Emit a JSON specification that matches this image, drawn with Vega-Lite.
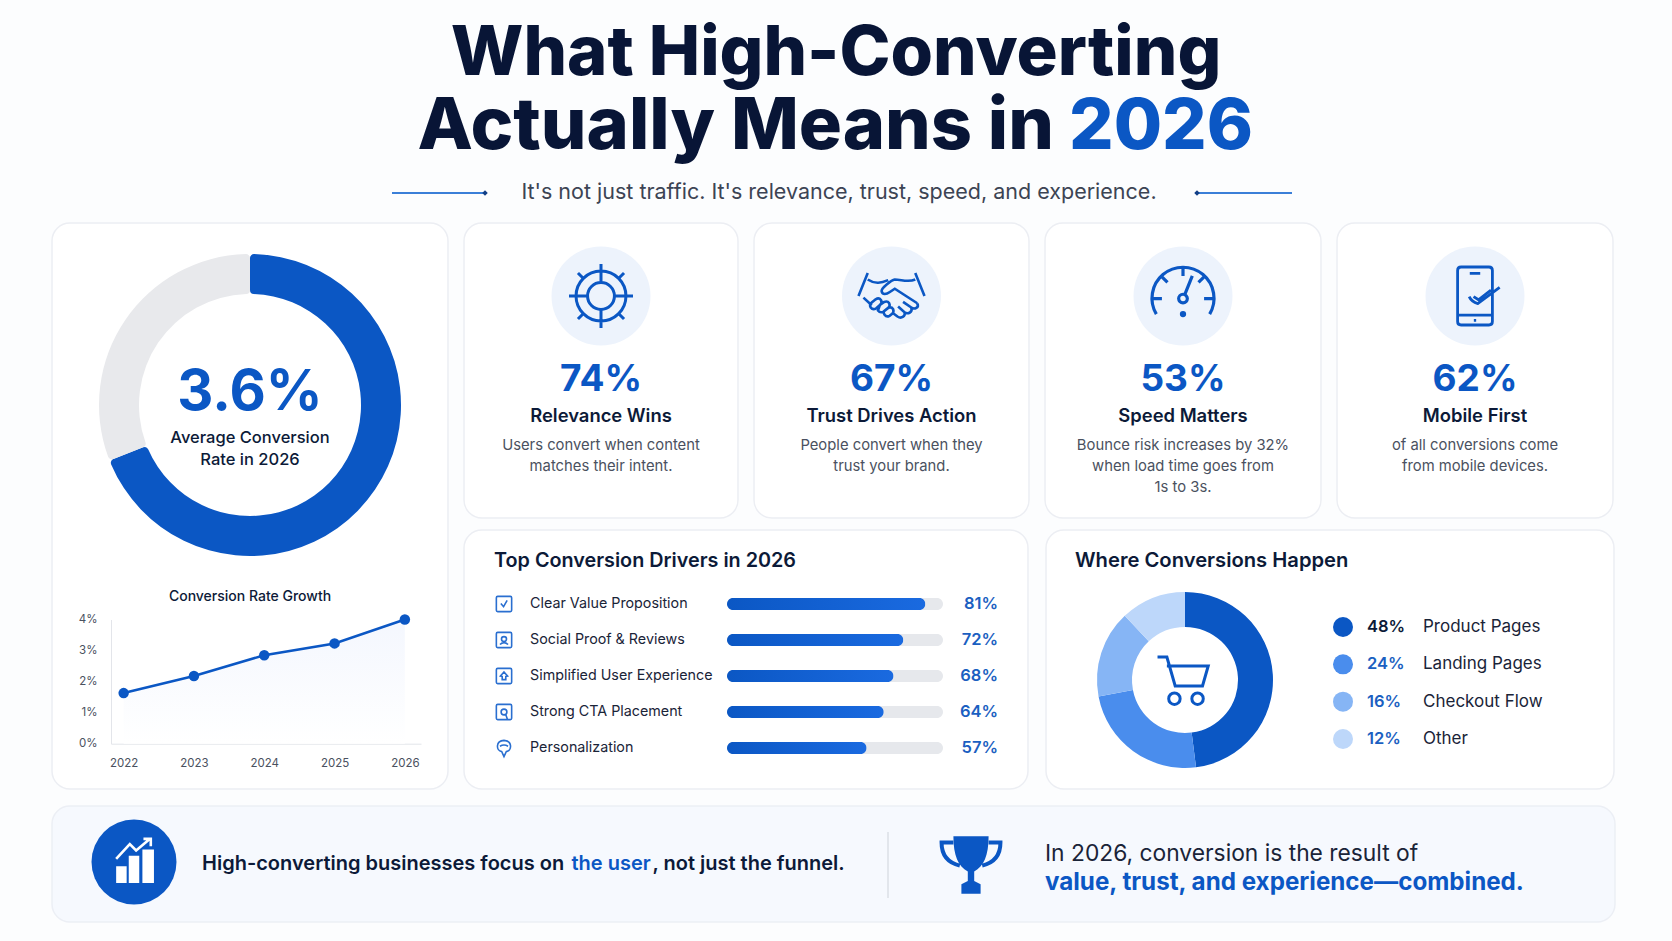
{"$schema":"https://vega.github.io/schema/vega-lite/v6.json","padding":{"left":51,"top":0,"right":58,"bottom":19},"background":"#fcfdfe","config":{"font":"Inter","view":{"stroke":null}},"spacing":15,"vconcat":[
{"width":1563,"height":207,"view":{"stroke":null},"resolve":{"scale":{"x":"independent","y":"independent"}},"layer":[
{"data":{"values":[{"t":"What High-Converting"}]},"mark":{"type":"text","fontSize":68.7,"fontWeight":800,"baseline":"alphabetic","align":"center","fill":"#081536"},"encoding":{"text":{"field":"t"},"x":{"field":"t","type":"nominal","axis":null,"scale":{"type":"point","range":[784,784]}},"y":{"field":"t","type":"nominal","axis":null,"scale":{"type":"point","range":[75,75]}}}},
{"data":{"values":[{"t":"Actually Means in"}]},"mark":{"type":"text","fontSize":72,"fontWeight":800,"baseline":"alphabetic","align":"right","fill":"#081536"},"encoding":{"text":{"field":"t"},"x":{"field":"t","type":"nominal","axis":null,"scale":{"type":"point","range":[1002,1002]}},"y":{"field":"t","type":"nominal","axis":null,"scale":{"type":"point","range":[149,149]}}}},
{"data":{"values":[{"t":"2026"}]},"mark":{"type":"text","fontSize":70,"fontWeight":800,"baseline":"alphabetic","align":"left","fill":"#0b57c4"},"encoding":{"text":{"field":"t"},"x":{"field":"t","type":"nominal","axis":null,"scale":{"type":"point","range":[1017,1017]}},"y":{"field":"t","type":"nominal","axis":null,"scale":{"type":"point","range":[149,149]}}}},
{"data":{"values":[{"t":"It's not just traffic. It's relevance, trust, speed, and experience."}]},"mark":{"type":"text","fontSize":21.5,"fontWeight":400,"fill":"#3c4454"},"encoding":{"text":{"field":"t"},"x":{"field":"t","type":"nominal","axis":null,"scale":{"type":"point","range":[787,787]}},"y":{"field":"t","type":"nominal","axis":null,"scale":{"type":"point","range":[193,193]}}}},
{"data":{"values":[{"side":"left","from":0,"to":1}]},"mark":{"type":"rule","stroke":"#3b7fd8","strokeWidth":2},"encoding":{"x":{"field":"from","type":"quantitative","axis":null,"scale":{"domain":[0,1],"range":[340,435]}},"x2":{"field":"to"},"y":{"field":"side","type":"nominal","axis":null,"scale":{"type":"point","range":[193,193]}}}},
{"data":{"values":[{"side":"right","from":0,"to":1}]},"mark":{"type":"rule","stroke":"#3b7fd8","strokeWidth":2},"encoding":{"x":{"field":"from","type":"quantitative","axis":null,"scale":{"domain":[0,1],"range":[1143,1240]}},"x2":{"field":"to"},"y":{"field":"side","type":"nominal","axis":null,"scale":{"type":"point","range":[193,193]}}}},
{"data":{"values":[{"side":"left"},{"side":"right"}]},"mark":{"type":"point","shape":"diamond","filled":true,"size":30,"color":"#123f86","opacity":1},"encoding":{"x":{"field":"side","type":"nominal","axis":null,"scale":{"type":"point","padding":0,"domain":["left","right"],"range":[433,1145]}},"y":{"field":"side","type":"nominal","axis":null,"scale":{"type":"point","range":[193,193]}}}}
]},
{"spacing":14,"hconcat":[
{"width":396,"height":566,"view":{"fill":"#ffffff","stroke":"#eceef3","strokeWidth":1.5,"cornerRadius":18},"resolve":{"scale":{"x":"independent","y":"independent"}},"layer":[
{"data":{"values":[{"part":"Reached","share":69},{"part":"Remaining","share":31}]},"mark":{"type":"arc","innerRadius":111,"outerRadius":151,"cornerRadius":4},"encoding":{"theta":{"field":"share","type":"quantitative"},"order":{"field":"share","sort":"descending"},"color":{"field":"part","type":"nominal","legend":null,"scale":{"domain":["Reached","Remaining"],"range":["#0b57c4","#e8e9ec"]}},"y":{"field":"part","type":"nominal","axis":null,"scale":{"type":"point","range":[182,182]}}}},
{"data":{"values":[{"rate":0.036}]},"mark":{"type":"text","fontSize":56,"fontWeight":700,"fill":"#0b57c4"},"encoding":{"text":{"field":"rate","type":"quantitative","format":".1%"},"y":{"field":"rate","type":"nominal","axis":null,"scale":{"type":"point","range":[170,170]}}}},
{"data":{"values":[{"line":1,"t":"Average Conversion"},{"line":2,"t":"Rate in 2026"}]},"mark":{"type":"text","fontSize":16.5,"fontWeight":500,"fill":"#0c1a38"},"encoding":{"text":{"field":"t"},"y":{"field":"line","type":"ordinal","axis":null,"scale":{"type":"point","padding":0,"range":[215,237]}}}},
{"data":{"values":[{"t":"Conversion Rate Growth"}]},"mark":{"type":"text","fontSize":14,"fontWeight":500,"fill":"#0c1a38"},"encoding":{"text":{"field":"t"},"y":{"field":"t","type":"nominal","axis":null,"scale":{"type":"point","range":[374,374]}}}},
{"data":{"values":[{"year":2022,"rate":0.0163},{"year":2023,"rate":0.0218},{"year":2024,"rate":0.0285},{"year":2025,"rate":0.0323},{"year":2026,"rate":0.04}]},"encoding":{"x":{"field":"year","type":"quantitative","scale":{"domain":[2021.82,2026.23],"range":[59,369],"nice":false,"zero":false},"axis":{"values":[2022,2023,2024,2025,2026],"format":"d","title":null,"offset":-45.3,"ticks":false,"grid":false,"domainColor":"#e3e5ea","labelColor":"#4a5160","labelFontSize":11.5,"labelPadding":14}},"y":{"field":"rate","type":"quantitative","scale":{"domain":[0,0.04],"range":[520.7,396.5],"nice":false},"axis":{"values":[0,0.01,0.02,0.03,0.04],"format":".0%","title":null,"offset":-59,"ticks":false,"grid":false,"domainColor":"#e3e5ea","labelColor":"#4a5160","labelFontSize":11.5,"labelPadding":14}}},"layer":[
{"mark":{"type":"area","color":{"gradient":"linear","x1":0,"y1":0,"x2":0,"y2":1,"stops":[{"offset":0,"color":"#f4f7fe"},{"offset":1,"color":"#ffffff"}]}}},
{"data":{"values":[{"rate":0.01},{"rate":0.02},{"rate":0.03},{"rate":0.04}]},"mark":{"type":"rule","stroke":"#e9ebf0","strokeWidth":1},"encoding":{"x":{"datum":2021.82},"x2":{"datum":2026.23}}},
{"mark":{"type":"line","color":"#0b57c4","strokeWidth":2.5}},
{"mark":{"type":"circle","color":"#0b57c4","size":110,"opacity":1}}
]}
]},
{"spacing":10,"vconcat":[
{"spacing":14,"hconcat":[
{"width":274,"height":295,"view":{"fill":"#ffffff","stroke":"#eceef3","strokeWidth":1.5,"cornerRadius":18},"resolve":{"scale":{"y":"independent"}},"layer":[
{"data":{"values":[{"card":"Relevance Wins"}]},"mark":{"type":"circle","size":9801,"color":"#edf3fc","opacity":1},"encoding":{"y":{"field":"card","type":"nominal","axis":null,"scale":{"type":"point","range":[73,73]}}}},
{"data":{"values":[{"card":"Relevance Wins"}]},"mark":{"type":"point","shape":"M-.78 0A.78 .78 0 1 1 .78 0A.78 .78 0 1 1 -.78 0ZM-.42 0A.42 .42 0 1 1 .42 0A.42 .42 0 1 1 -.42 0ZM-1 0L-.42 0M.42 0L1 0M0 -1L0 -.42M0 .42L0 1M-.72 -.72L-.54 -.54M.72 -.72L.54 -.54M-.72 .72L-.54 .54M.72 .72L.54 .54","size":4096,"filled":false,"stroke":"#0b57c4","strokeWidth":3,"opacity":1},"encoding":{"y":{"field":"card","type":"nominal","axis":null,"scale":{"type":"point","range":[73,73]}}}},
{"data":{"values":[{"card":"Relevance Wins","pct":0.74}]},"mark":{"type":"text","fontSize":37,"fontWeight":700,"fill":"#0b57c4"},"encoding":{"text":{"field":"pct","type":"quantitative","format":".0%"},"y":{"field":"card","type":"nominal","axis":null,"scale":{"type":"point","range":[157,157]}}}},
{"data":{"values":[{"card":"Relevance Wins"}]},"mark":{"type":"text","fontSize":18.4,"fontWeight":600,"fill":"#0c1a38"},"encoding":{"text":{"field":"card"},"y":{"field":"card","type":"nominal","axis":null,"scale":{"type":"point","range":[193,193]}}}},
{"data":{"values":[{"line":1,"t":"Users convert when content"},{"line":2,"t":"matches their intent."}]},"mark":{"type":"text","fontSize":14.8,"fontWeight":400,"fill":"#4a5160"},"encoding":{"text":{"field":"t"},"y":{"field":"line","type":"ordinal","axis":null,"scale":{"type":"point","padding":0,"domain":[1,2,3],"range":[223,265]}}}}
]},
{"width":275,"height":295,"view":{"fill":"#ffffff","stroke":"#eceef3","strokeWidth":1.5,"cornerRadius":18},"resolve":{"scale":{"y":"independent"}},"layer":[
{"data":{"values":[{"card":"Trust Drives Action"}]},"mark":{"type":"circle","size":9801,"color":"#edf3fc","opacity":1},"encoding":{"y":{"field":"card","type":"nominal","axis":null,"scale":{"type":"point","range":[73,73]}}}},
{"data":{"values":[{"card":"Trust Drives Action"}]},"mark":{"type":"point","shape":"M-1 0L-.72 -.7M1 0L.72 -.7M-.72 -.5C-.5 -.35 -.3 -.4 -.1 -.48M.72 -.5C.5 -.4 .3 -.5 .1 -.5C0 -.48 -.3 -.25 -.3 -.15C-.28 -.02 -.15 -.05 -.05 -.12L.1 -.22L.78 .22M-.85 .05L-.6 .28M.78 .22C.85 .35 .7 .42 .6 .35L.35 .18M.6 .35C.65 .5 .5 .55 .4 .5L.2 .32M.4 .5C.42 .62 .3 .7 .18 .62L.05 .52M-.6 .2L-.48 .1Q-.38 .04 -.32 .12Q-.27 .2 -.35 .27L-.47 .38Q-.57 .43 -.63 .35Q-.68 .27 -.6 .2ZM-.35 .27L-.22 .18Q-.12 .14 -.07 .22Q-.03 .3 -.1 .36L-.25 .48Q-.35 .52 -.41 .44ZM-.1 .36Q0 .32 .05 .4Q.08 .48 .02 .54L-.06 .6Q-.15 .65 -.21 .57L-.25 .48","size":4356,"filled":false,"stroke":"#0b57c4","strokeWidth":2.6,"opacity":1},"encoding":{"y":{"field":"card","type":"nominal","axis":null,"scale":{"type":"point","range":[73,73]}}}},
{"data":{"values":[{"card":"Trust Drives Action","pct":0.67}]},"mark":{"type":"text","fontSize":37,"fontWeight":700,"fill":"#0b57c4"},"encoding":{"text":{"field":"pct","type":"quantitative","format":".0%"},"y":{"field":"card","type":"nominal","axis":null,"scale":{"type":"point","range":[157,157]}}}},
{"data":{"values":[{"card":"Trust Drives Action"}]},"mark":{"type":"text","fontSize":18.4,"fontWeight":600,"fill":"#0c1a38"},"encoding":{"text":{"field":"card"},"y":{"field":"card","type":"nominal","axis":null,"scale":{"type":"point","range":[193,193]}}}},
{"data":{"values":[{"line":1,"t":"People convert when they"},{"line":2,"t":"trust your brand."}]},"mark":{"type":"text","fontSize":14.8,"fontWeight":400,"fill":"#4a5160"},"encoding":{"text":{"field":"t"},"y":{"field":"line","type":"ordinal","axis":null,"scale":{"type":"point","padding":0,"domain":[1,2,3],"range":[223,265]}}}}
]},
{"width":276,"height":295,"view":{"fill":"#ffffff","stroke":"#eceef3","strokeWidth":1.5,"cornerRadius":18},"resolve":{"scale":{"y":"independent"}},"layer":[
{"data":{"values":[{"card":"Speed Matters"}]},"mark":{"type":"circle","size":9801,"color":"#edf3fc","opacity":1},"encoding":{"y":{"field":"card","type":"nominal","axis":null,"scale":{"type":"point","range":[73,73]}}}},
{"data":{"values":[{"card":"Speed Matters"}]},"mark":{"type":"point","shape":"M-.86 .68A1 1 0 1 1 .86 .68M0 -.8L0 -.55M-.98 .18L-.68 .18M.98 .18L.68 .18M-.68 -.52L-.5 -.34M.68 -.52L.5 -.34M.3 -.55L.07 .02M-.14 .18A.14 .14 0 1 1 .14 .18A.14 .14 0 1 1 -.14 .18ZM-.05 .68A.05 .05 0 1 1 .05 .68A.05 .05 0 1 1 -.05 .68Z","size":3844,"filled":false,"stroke":"#0b57c4","strokeWidth":3.2,"opacity":1},"encoding":{"y":{"field":"card","type":"nominal","axis":null,"scale":{"type":"point","range":[70,70]}}}},
{"data":{"values":[{"card":"Speed Matters","pct":0.53}]},"mark":{"type":"text","fontSize":37,"fontWeight":700,"fill":"#0b57c4"},"encoding":{"text":{"field":"pct","type":"quantitative","format":".0%"},"y":{"field":"card","type":"nominal","axis":null,"scale":{"type":"point","range":[157,157]}}}},
{"data":{"values":[{"card":"Speed Matters"}]},"mark":{"type":"text","fontSize":18.4,"fontWeight":600,"fill":"#0c1a38"},"encoding":{"text":{"field":"card"},"y":{"field":"card","type":"nominal","axis":null,"scale":{"type":"point","range":[193,193]}}}},
{"data":{"values":[{"line":1,"t":"Bounce risk increases by 32%"},{"line":2,"t":"when load time goes from"},{"line":3,"t":"1s to 3s."}]},"mark":{"type":"text","fontSize":14.8,"fontWeight":400,"fill":"#4a5160"},"encoding":{"text":{"field":"t"},"y":{"field":"line","type":"ordinal","axis":null,"scale":{"type":"point","padding":0,"domain":[1,2,3],"range":[223,265]}}}}
]},
{"width":276,"height":295,"view":{"fill":"#ffffff","stroke":"#eceef3","strokeWidth":1.5,"cornerRadius":18},"resolve":{"scale":{"y":"independent"}},"layer":[
{"data":{"values":[{"card":"Mobile First"}]},"mark":{"type":"circle","size":9801,"color":"#edf3fc","opacity":1},"encoding":{"y":{"field":"card","type":"nominal","axis":null,"scale":{"type":"point","range":[73,73]}}}},
{"data":{"values":[{"card":"Mobile First"}]},"mark":{"type":"point","shape":"M-.48 -1H.48Q.6 -1 .6 -.88V.88Q.6 1 .48 1H-.48Q-.6 1 -.6 .88V-.88Q-.6 -1 -.48 -1ZM-.18 -.78H.18M-.6 .66H.6M-.04 .84H.04M-.2 .02Q-.12 .2 .1 .26L.85 -.3M-.05 .02L.12 .13L.55 -.2","size":3364,"filled":false,"stroke":"#0b57c4","strokeWidth":2.8,"opacity":1},"encoding":{"y":{"field":"card","type":"nominal","axis":null,"scale":{"type":"point","range":[73,73]}}}},
{"data":{"values":[{"card":"Mobile First","pct":0.62}]},"mark":{"type":"text","fontSize":37,"fontWeight":700,"fill":"#0b57c4"},"encoding":{"text":{"field":"pct","type":"quantitative","format":".0%"},"y":{"field":"card","type":"nominal","axis":null,"scale":{"type":"point","range":[157,157]}}}},
{"data":{"values":[{"card":"Mobile First"}]},"mark":{"type":"text","fontSize":18.4,"fontWeight":600,"fill":"#0c1a38"},"encoding":{"text":{"field":"card"},"y":{"field":"card","type":"nominal","axis":null,"scale":{"type":"point","range":[193,193]}}}},
{"data":{"values":[{"line":1,"t":"of all conversions come"},{"line":2,"t":"from mobile devices."}]},"mark":{"type":"text","fontSize":14.8,"fontWeight":400,"fill":"#4a5160"},"encoding":{"text":{"field":"t"},"y":{"field":"line","type":"ordinal","axis":null,"scale":{"type":"point","padding":0,"domain":[1,2,3],"range":[223,265]}}}}
]}
]},
{"spacing":16,"hconcat":[
{"width":564,"height":259,"view":{"fill":"#ffffff","stroke":"#eceef3","strokeWidth":1.5,"cornerRadius":18},"resolve":{"scale":{"x":"independent","y":"independent"}},"layer":[
{"data":{"values":[{"t":"Top Conversion Drivers in 2026"}]},"mark":{"type":"text","fontSize":19.8,"fontWeight":600,"align":"left","fill":"#0c1a38"},"encoding":{"text":{"field":"t"},"x":{"field":"t","type":"nominal","axis":null,"scale":{"type":"point","range":[30,30]}},"y":{"field":"t","type":"nominal","axis":null,"scale":{"type":"point","range":[31,31]}}}},
{"data":{"values":[{"driver":"Clear Value Proposition","share":0.81},{"driver":"Social Proof & Reviews","share":0.72},{"driver":"Simplified User Experience","share":0.68},{"driver":"Strong CTA Placement","share":0.64},{"driver":"Personalization","share":0.57}]},"encoding":{"y":{"field":"driver","type":"nominal","axis":null,"sort":null,"scale":{"type":"point","padding":0,"range":[74,218]}}},"resolve":{"scale":{"x":"independent"}},"layer":[
{"mark":{"type":"point","filled":false,"size":324,"stroke":"#2a6fd0","strokeWidth":1.6,"opacity":1},"encoding":{"x":{"field":"driver","type":"nominal","axis":null,"scale":{"type":"point","range":[40,40]}},"shape":{"field":"driver","type":"nominal","legend":null,"sort":null,"scale":{"range":["M-.7 -.85H.7Q.85 -.85 .85 -.7V.7Q.85 .85 .7 .85H-.7Q-.85 .85 -.85 .7V-.7Q-.85 -.85 -.7 -.85ZM-.35 -.05L-.05 .3L.35 -.4","M-.7 -.85H.7Q.85 -.85 .85 -.7V.7Q.85 .85 .7 .85H-.7Q-.85 .85 -.85 .7V-.7Q-.85 -.85 -.7 -.85ZM-.28 -.1A.28 .28 0 1 1 .28 -.1A.28 .28 0 1 1 -.28 -.1ZM-.45 .5Q0 .1 .45 .5","M-.7 -.85H.7Q.85 -.85 .85 -.7V.7Q.85 .85 .7 .85H-.7Q-.85 .85 -.85 .7V-.7Q-.85 -.85 -.7 -.85ZM0 -.45L.4 0L.2 .05V.4H-.2V.05L-.4 0Z","M-.7 -.85H.7Q.85 -.85 .85 -.7V.7Q.85 .85 .7 .85H-.7Q-.85 .85 -.85 .7V-.7Q-.85 -.85 -.7 -.85ZM-.32 0A.32 .32 0 1 1 .32 0A.32 .32 0 1 1 -.32 0ZM.2 .3L.4 .85","M0 .95L-.25 .4C-.9 .3 -.95 -.8 0 -.85C.95 -.8 .9 .3 .25 .4ZM-.45 -.2C-.1 -.4 .1 -.4 .45 -.2"]}}}},
{"mark":{"type":"text","fontSize":14.3,"fontWeight":400,"align":"left","fill":"#1a2438"},"encoding":{"text":{"field":"driver"},"x":{"field":"driver","type":"nominal","axis":null,"scale":{"type":"point","range":[66,66]}}}},
{"mark":{"type":"bar","size":12,"cornerRadius":6,"fill":"#e6e8ec"},"encoding":{"x":{"datum":0.882,"type":"quantitative","axis":null,"scale":{"domain":[0,0.882],"range":[263,479],"nice":false}}}},
{"mark":{"type":"bar","size":12,"cornerRadius":6,"fill":{"gradient":"linear","x1":0,"y1":0,"x2":1,"y2":0,"stops":[{"offset":0,"color":"#0b57c4"},{"offset":1,"color":"#1a6ae0"}]}},"encoding":{"x":{"field":"share","type":"quantitative","axis":null,"scale":{"domain":[0,0.882],"range":[263,479],"nice":false}}}},
{"mark":{"type":"text","fontSize":16.5,"fontWeight":600,"align":"right","fill":"#1b5fc1"},"encoding":{"text":{"field":"share","type":"quantitative","format":".0%"},"x":{"field":"driver","type":"nominal","axis":null,"scale":{"type":"point","range":[534,534]}}}}
]}
]},
{"width":568,"height":259,"view":{"fill":"#ffffff","stroke":"#eceef3","strokeWidth":1.5,"cornerRadius":18},"resolve":{"scale":{"x":"independent","y":"independent","color":"independent"}},"layer":[
{"data":{"values":[{"t":"Where Conversions Happen"}]},"mark":{"type":"text","fontSize":20.2,"fontWeight":600,"align":"left","fill":"#0c1a38"},"encoding":{"text":{"field":"t"},"x":{"field":"t","type":"nominal","axis":null,"scale":{"type":"point","range":[29,29]}},"y":{"field":"t","type":"nominal","axis":null,"scale":{"type":"point","range":[31,31]}}}},
{"data":{"values":[{"place":"Product Pages","share":0.48},{"place":"Landing Pages","share":0.24},{"place":"Checkout Flow","share":0.16},{"place":"Other","share":0.12}]},"encoding":{"y":{"field":"place","type":"nominal","axis":null,"sort":null,"scale":{"type":"point","padding":0,"range":[97,209]}}},"resolve":{"scale":{"x":"independent","y":"independent","color":"independent"}},"layer":[
{"mark":{"type":"arc","innerRadius":53,"outerRadius":88},"encoding":{"theta":{"field":"share","type":"quantitative"},"order":{"field":"share","sort":"descending"},"color":{"field":"place","type":"nominal","legend":null,"scale":{"domain":["Product Pages","Landing Pages","Checkout Flow","Other"],"range":["#0b57c4","#4a8ded","#86b5f5","#bdd7fa"]}},"x":{"field":"place","type":"nominal","axis":null,"scale":{"type":"point","range":[139,139]}},"y":{"field":"place","type":"nominal","axis":null,"scale":{"type":"point","range":[150,150]}}}},
{"mark":{"type":"circle","size":400,"opacity":1},"encoding":{"color":{"field":"place","type":"nominal","legend":null,"scale":{"domain":["Product Pages","Landing Pages","Checkout Flow","Other"],"range":["#0b57c4","#4a8ded","#86b5f5","#bdd7fa"]}},"x":{"field":"place","type":"nominal","axis":null,"scale":{"type":"point","range":[297,297]}}}},
{"mark":{"type":"text","fontSize":16.5,"fontWeight":600,"align":"left"},"encoding":{"text":{"field":"share","type":"quantitative","format":".0%"},"color":{"field":"place","type":"nominal","legend":null,"scale":{"domain":["Product Pages","Landing Pages","Checkout Flow","Other"],"range":["#0c1a38","#1b5fc1","#1b5fc1","#1b5fc1"]}},"x":{"field":"place","type":"nominal","axis":null,"scale":{"type":"point","range":[321,321]}}}},
{"mark":{"type":"text","fontSize":17,"fontWeight":400,"align":"left","fill":"#1a2438"},"encoding":{"text":{"field":"place"},"x":{"field":"place","type":"nominal","axis":null,"scale":{"type":"point","range":[377,377]}}}}
]},
{"data":{"values":[{"icon":"cart"}]},"mark":{"type":"point","shape":"M-.98 -.88L-.62 -.88L-.3 .23L.75 .23L.97 -.54L-.62 -.54M-.55 .72A.22 .22 0 1 1 -.11 .72A.22 .22 0 1 1 -.55 .72ZM.34 .72A.22 .22 0 1 1 .78 .72A.22 .22 0 1 1 .34 .72Z","size":2704,"filled":false,"stroke":"#0b57c4","strokeWidth":3,"opacity":1},"encoding":{"x":{"field":"icon","type":"nominal","axis":null,"scale":{"type":"point","range":[137,137]}},"y":{"field":"icon","type":"nominal","axis":null,"scale":{"type":"point","range":[150,150]}}}}
]}
]}
]}
]},
{"width":1563,"height":116,"view":{"fill":"#f6f9fe","stroke":"#eceff5","strokeWidth":1.5,"cornerRadius":18},"resolve":{"scale":{"x":"independent","y":"independent"}},"layer":[
{"data":{"values":[{"k":"badge"}]},"mark":{"type":"circle","size":7225,"color":"#0b57c4","opacity":1},"encoding":{"x":{"field":"k","type":"nominal","axis":null,"scale":{"type":"point","range":[82,82]}},"y":{"field":"k","type":"nominal","axis":null,"scale":{"type":"point","range":[56,56]}}}},
{"data":{"values":[{"k":"bars"}]},"mark":{"type":"point","shape":"M-.85 .2H-.35V1H-.85ZM-.25 -.3H.25V1H-.25ZM.4 -.6H.95V1H.4Z","size":1764,"filled":true,"fill":"#ffffff","opacity":1},"encoding":{"x":{"field":"k","type":"nominal","axis":null,"scale":{"type":"point","range":[82,82]}},"y":{"field":"k","type":"nominal","axis":null,"scale":{"type":"point","range":[56,56]}}}},
{"data":{"values":[{"k":"arrow"}]},"mark":{"type":"point","shape":"M-.85 -.15L-.2 -.85L.1 -.55L.75 -1.1M.45 -1.1H.8V-.75","size":1764,"filled":false,"stroke":"#ffffff","strokeWidth":2.6,"opacity":1},"encoding":{"x":{"field":"k","type":"nominal","axis":null,"scale":{"type":"point","range":[82,82]}},"y":{"field":"k","type":"nominal","axis":null,"scale":{"type":"point","range":[56,56]}}}},
{"data":{"values":[{"t":"High-converting businesses focus on"}]},"mark":{"type":"text","fontSize":20,"fontWeight":600,"align":"left","fill":"#0c1a38"},"encoding":{"text":{"field":"t"},"x":{"field":"t","type":"nominal","axis":null,"scale":{"type":"point","range":[150,150]}},"y":{"field":"t","type":"nominal","axis":null,"scale":{"type":"point","range":[58,58]}}}},
{"data":{"values":[{"t":"the user"}]},"mark":{"type":"text","fontSize":20,"fontWeight":600,"align":"left","fill":"#0b57c4"},"encoding":{"text":{"field":"t"},"x":{"field":"t","type":"nominal","axis":null,"scale":{"type":"point","range":[519.5,519.5]}},"y":{"field":"t","type":"nominal","axis":null,"scale":{"type":"point","range":[58,58]}}}},
{"data":{"values":[{"t":", not just the funnel."}]},"mark":{"type":"text","fontSize":20,"fontWeight":600,"align":"left","fill":"#0c1a38"},"encoding":{"text":{"field":"t"},"x":{"field":"t","type":"nominal","axis":null,"scale":{"type":"point","range":[600.5,600.5]}},"y":{"field":"t","type":"nominal","axis":null,"scale":{"type":"point","range":[58,58]}}}},
{"data":{"values":[{"k":"divider","from":0,"to":1}]},"mark":{"type":"rule","stroke":"#d5d9e0","strokeWidth":1.2},"encoding":{"x":{"field":"k","type":"nominal","axis":null,"scale":{"type":"point","range":[836,836]}},"y":{"field":"from","type":"quantitative","axis":null,"scale":{"domain":[0,1],"range":[26,92]}},"y2":{"field":"to"}}},
{"data":{"values":[{"k":"cup"}]},"mark":{"type":"point","shape":"M-.55 -.9L.55 -.9C.55 -.3 .4 .05 .1 .2L.1 .5L.3 .6L.3 .9L-.3 .9L-.3 .6L-.1 .5L-.1 .2C-.4 .05 -.55 -.3 -.55 -.9Z","size":4096,"filled":true,"fill":"#0b57c4","opacity":1},"encoding":{"x":{"field":"k","type":"nominal","axis":null,"scale":{"type":"point","range":[919,919]}},"y":{"field":"k","type":"nominal","axis":null,"scale":{"type":"point","range":[59,59]}}}},
{"data":{"values":[{"k":"handles"}]},"mark":{"type":"point","shape":"M-.55 -.7L-.92 -.7C-.92 -.25 -.65 -.05 -.35 .02M.55 -.7L.92 -.7C.92 -.25 .65 -.05 .35 .02","size":4096,"filled":false,"stroke":"#0b57c4","strokeWidth":4,"opacity":1},"encoding":{"x":{"field":"k","type":"nominal","axis":null,"scale":{"type":"point","range":[919,919]}},"y":{"field":"k","type":"nominal","axis":null,"scale":{"type":"point","range":[59,59]}}}},
{"data":{"values":[{"t":"In 2026, conversion is the result of"}]},"mark":{"type":"text","fontSize":22.8,"fontWeight":400,"align":"left","fill":"#1a2438"},"encoding":{"text":{"field":"t"},"x":{"field":"t","type":"nominal","axis":null,"scale":{"type":"point","range":[993,993]}},"y":{"field":"t","type":"nominal","axis":null,"scale":{"type":"point","range":[48,48]}}}},
{"data":{"values":[{"t":"value, trust, and experience—combined."}]},"mark":{"type":"text","fontSize":24.2,"fontWeight":700,"align":"left","fill":"#0b57c4"},"encoding":{"text":{"field":"t"},"x":{"field":"t","type":"nominal","axis":null,"scale":{"type":"point","range":[993,993]}},"y":{"field":"t","type":"nominal","axis":null,"scale":{"type":"point","range":[77,77]}}}}
]}
]}
